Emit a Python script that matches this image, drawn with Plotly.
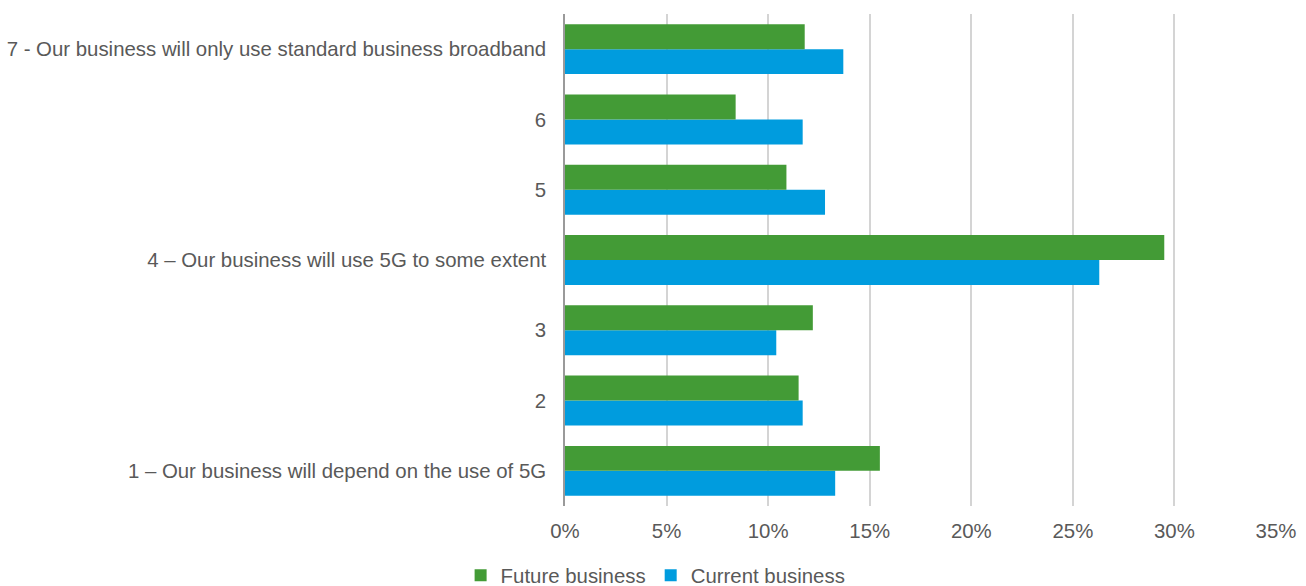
import plotly.graph_objects as go

# Survey categories (scale 1-7), bottom to top
categories = [
    "1 – Our business will depend on the use of 5G",
    "2",
    "3",
    "4 – Our business will use 5G to some extent",
    "5",
    "6",
    "7 - Our business will only use standard business broadband",
]

# Share of respondents (%)
future_business = [15.5, 11.5, 12.2, 29.5, 10.9, 8.4, 11.8]
current_business = [13.3, 11.7, 10.4, 26.3, 12.8, 11.7, 13.7]

x_ticks = [0, 5, 10, 15, 20, 25, 30, 35]
x_tick_labels = [f"{v}%" for v in x_ticks]

GREEN = "#439B36"
BLUE = "#009CDE"
TEXT = "#595959"
FONT = "Liberation Sans, Arial, sans-serif"
SIZE = 20.4

fig = go.Figure()
# Current first so that Future sits above it within each group
fig.add_trace(go.Bar(
    y=categories, x=current_business, name="Current business",
    orientation="h", marker=dict(color=BLUE, line=dict(width=0)),
))
fig.add_trace(go.Bar(
    y=categories, x=future_business, name="Future business",
    orientation="h", marker=dict(color=GREEN, line=dict(width=0)),
))

fig.update_layout(
    width=1306, height=586,
    margin=dict(l=565, r=30, t=14, b=80),
    paper_bgcolor="white", plot_bgcolor="white",
    barmode="group", bargap=0.29, bargroupgap=0,
    font=dict(family=FONT, size=SIZE, color=TEXT),
    showlegend=True,
    legend=dict(
        orientation="h", traceorder="reversed",
        xref="container", yref="container",
        x=0.502, xanchor="center", y=0.018, yanchor="middle",
        font=dict(family=FONT, size=SIZE, color=TEXT),
        itemwidth=30,
    ),
    xaxis=dict(
        range=[0, 35], tickvals=x_ticks, ticktext=x_tick_labels,
        showgrid=True, gridcolor="#D4D4D4", gridwidth=2,
        zeroline=False, showline=False, ticks="",
        ticklabelstandoff=11, fixedrange=True, automargin=False,
    ),
    yaxis=dict(
        type="category", categoryorder="array", categoryarray=categories,
        showline=True, linecolor="#9A9A9A", linewidth=1.5,
        showgrid=False, ticks="", ticklabelstandoff=13,
        fixedrange=True, automargin=False,
    ),
)

fig.write_html("out.html")
